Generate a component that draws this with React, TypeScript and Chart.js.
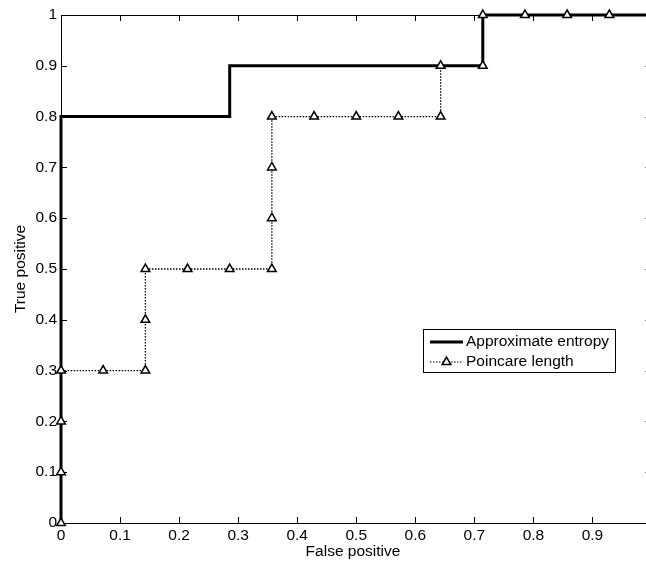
import React, { useEffect, useRef } from "react";
import { Chart, registerables } from "chart.js";

Chart.register(...registerables);

// ROC data
const approxFpr = [0, 0, 0.2857, 0.2857, 0.7143, 0.7143, 1];
const approxTpr = [0, 0.8, 0.8, 0.9, 0.9, 1, 1];

const poincareFpr = [
  0, 0, 0, 0, 0.0714, 0.1429, 0.1429, 0.1429, 0.2143, 0.2857, 0.3571, 0.3571,
  0.3571, 0.3571, 0.4286, 0.5, 0.5714, 0.6429, 0.6429, 0.7143, 0.7143, 0.7857,
  0.8571, 0.9286, 1,
];
const poincareTpr = [
  0, 0.1, 0.2, 0.3, 0.3, 0.3, 0.4, 0.5, 0.5, 0.5, 0.5, 0.6, 0.7, 0.8, 0.8, 0.8,
  0.8, 0.8, 0.9, 0.9, 1, 1, 1, 1, 1,
];

const xTicks = [0, 0.1, 0.2, 0.3, 0.4, 0.5, 0.6, 0.7, 0.8, 0.9];
const yTicks = [0, 0.1, 0.2, 0.3, 0.4, 0.5, 0.6, 0.7, 0.8, 0.9, 1];

const seriesLabels = ["Approximate entropy", "Poincare length"];
const xTitle = "False positive";
const yTitle = "True positive";

const FONT = "'Liberation Sans', Arial, sans-serif";
const FS = 15.5;

const fmt = (v: number) => {
  const r = Math.round(v * 10) / 10;
  return String(r);
};

const framePlugin = {
  id: "frame",
  beforeDatasetsDraw(chart: any) {
    const { ctx, chartArea, scales } = chart;
    const { left, right, top, bottom } = chartArea;
    ctx.save();
    ctx.strokeStyle = "#000";
    ctx.lineWidth = 1;
    ctx.beginPath();
    ctx.moveTo(left + 0.5, top + 0.5);
    ctx.lineTo(right + 0.5, top + 0.5);
    ctx.lineTo(right + 0.5, bottom + 0.5);
    ctx.lineTo(left + 0.5, bottom + 0.5);
    ctx.closePath();
    ctx.stroke();
    const tl = 6;
    ctx.beginPath();
    xTicks.forEach((v) => {
      const px = Math.round(scales.x.getPixelForValue(v)) + 0.5;
      ctx.moveTo(px, bottom);
      ctx.lineTo(px, bottom - tl);
      ctx.moveTo(px, top);
      ctx.lineTo(px, top + tl);
    });
    yTicks.forEach((v) => {
      const py = Math.round(scales.y.getPixelForValue(v)) + 0.5;
      ctx.moveTo(left, py);
      ctx.lineTo(left + tl, py);
      ctx.moveTo(right, py);
      ctx.lineTo(right - tl, py);
    });
    ctx.stroke();
    ctx.restore();
  },
  afterDraw(chart: any) {
    const { ctx, chartArea } = chart;
    const { top, bottom } = chartArea;
    ctx.save();
    ctx.fillStyle = "#000";
    ctx.font = `${FS}px ${FONT}`;
    ctx.textAlign = "center";
    ctx.textBaseline = "middle";
    ctx.fillText(xTitle, 353, 552);
    ctx.save();
    ctx.translate(21, (top + bottom) / 2);
    ctx.rotate(-Math.PI / 2);
    ctx.fillText(yTitle, 0, 0);
    ctx.restore();

    // legend
    const bx = 423,
      by = 329,
      bw = 192,
      bh = 43;
    ctx.fillStyle = "#fff";
    ctx.fillRect(bx, by, bw, bh);
    ctx.strokeStyle = "#000";
    ctx.lineWidth = 1;
    ctx.strokeRect(bx + 0.5, by + 0.5, bw, bh);
    const y1 = 342,
      y2 = 362;
    ctx.lineWidth = 3;
    ctx.beginPath();
    ctx.moveTo(430, y1);
    ctx.lineTo(463, y1);
    ctx.stroke();
    ctx.lineWidth = 1.2;
    ctx.setLineDash([1.5, 1.5]);
    ctx.beginPath();
    ctx.moveTo(430, y2);
    ctx.lineTo(463, y2);
    ctx.stroke();
    ctx.setLineDash([]);
    const r = 5;
    const cx = 446.5;
    ctx.lineWidth = 1.5;
    ctx.beginPath();
    ctx.moveTo(cx, y2 - r);
    ctx.lineTo(cx + r * 0.866, y2 + r * 0.5);
    ctx.lineTo(cx - r * 0.866, y2 + r * 0.5);
    ctx.closePath();
    ctx.fillStyle = "#fff";
    ctx.fill();
    ctx.stroke();
    ctx.fillStyle = "#000";
    ctx.textAlign = "left";
    ctx.fillText(seriesLabels[0], 466, y1);
    ctx.fillText(seriesLabels[1], 466, y2);
    ctx.restore();
  },
};

export default function App() {
  const ref = useRef<HTMLCanvasElement>(null);
  useEffect(() => {
    if (!ref.current) return;
    const chart = new Chart(ref.current, {
      type: "line",
      data: {
        datasets: [
          {
            label: seriesLabels[0],
            data: approxFpr.map((x, i) => ({ x, y: approxTpr[i] })),
            borderColor: "#000",
            borderWidth: 3,
            pointRadius: 0,
            fill: false,
            tension: 0,
            clip: false as any,
            order: 2,
          },
          {
            label: seriesLabels[1],
            data: poincareFpr.map((x, i) => ({ x, y: poincareTpr[i] })),
            borderColor: "#000",
            borderWidth: 1.3,
            borderDash: [1.5, 1.5],
            pointStyle: "triangle",
            pointRadius: 5,
            pointBorderWidth: 1.5,
            pointBorderColor: "#000",
            pointBackgroundColor: "#fff",
            fill: false,
            tension: 0,
            clip: false as any,
            order: 1,
          },
        ],
      },
      options: {
        animation: false,
        responsive: false,
        devicePixelRatio: 1,
        layout: { padding: { top: 15, right: 1, left: 0, bottom: 0 } },
        plugins: { legend: { display: false }, tooltip: { enabled: false } },
        scales: {
          x: {
            type: "linear",
            min: 0,
            max: 1,
            grid: { display: false, drawTicks: false },
            border: { display: false },
            afterBuildTicks: (s: any) => {
              s.ticks = xTicks.map((v) => ({ value: v }));
            },
            afterFit: (s: any) => {
              s.height = 40;
              s.paddingRight = 0;
              s.paddingLeft = 0;
            },
            ticks: {
              padding: 3,
              maxRotation: 0,
              autoSkip: false,
              color: "#000",
              font: { family: FONT, size: FS },
              callback: (v: any) => fmt(Number(v)),
            },
          },
          y: {
            type: "linear",
            min: 0,
            max: 1,
            grid: { display: false, drawTicks: false },
            border: { display: false },
            afterBuildTicks: (s: any) => {
              s.ticks = yTicks.map((v) => ({ value: v }));
            },
            afterFit: (s: any) => {
              s.width = 61;
            },
            ticks: {
              padding: 4,
              autoSkip: false,
              color: "#000",
              font: { family: FONT, size: FS },
              callback: (v: any) => fmt(Number(v)),
            },
          },
        },
      },
      plugins: [framePlugin],
    });
    return () => chart.destroy();
  }, []);
  return (
    <div
      style={{
        position: "fixed",
        left: 0,
        top: 0,
        width: 646,
        height: 563,
        overflow: "hidden",
        background: "#fff",
      }}
    >
      <canvas
        ref={ref}
        width={658}
        height={563}
        style={{ display: "block", width: 658, height: 563 }}
      />
    </div>
  );
}
